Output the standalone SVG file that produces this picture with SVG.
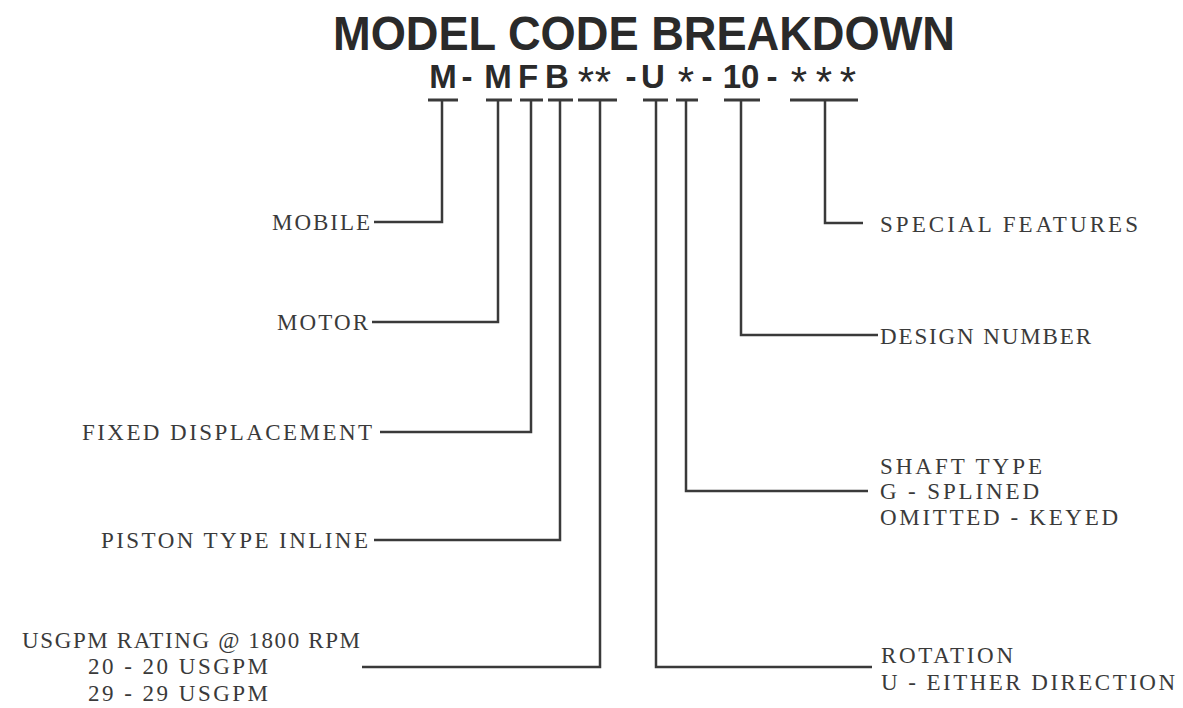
<svg xmlns="http://www.w3.org/2000/svg" width="1183" height="708" viewBox="0 0 1183 708">
<style>
.title{font-family:"Liberation Sans",Arial,sans-serif;font-weight:bold;font-size:49px;fill:#2a2a2a}
.code{font-family:"Liberation Sans",Arial,sans-serif;font-weight:bold;font-size:33px;fill:#2a2a2a;text-anchor:middle}
.ast{font-family:"Liberation Sans",Arial,sans-serif;font-weight:normal;font-size:42px;fill:#2a2a2a;text-anchor:middle}
.lbl{font-family:"Liberation Serif","Times New Roman",serif;font-size:23px;fill:#3a3a3a}
.wire{fill:none;stroke:#3a3a3a;stroke-width:2.5}
.bar{fill:none;stroke:#3a3a3a;stroke-width:3}
</style>
<rect width="1183" height="708" fill="#fff"/>
<text class="title" x="333" y="50" textLength="622" lengthAdjust="spacingAndGlyphs">MODEL CODE BREAKDOWN</text>
<g id="code">
<text class="code" x="443" y="88">M</text>
<text class="code" x="467" y="88">-</text>
<text class="code" x="498" y="88">M</text>
<text class="code" x="528" y="88">F</text>
<text class="code" x="557" y="88">B</text>
<text class="ast" x="586" y="96">*</text>
<text class="ast" x="603" y="96">*</text>
<text class="code" x="631" y="88">-</text>
<text class="code" x="653" y="88">U</text>
<text class="ast" x="686" y="96">*</text>
<text class="code" x="707" y="88">-</text>
<text class="code" x="741" y="88">10</text>
<text class="code" x="772" y="88">-</text>
<text class="ast" x="799" y="96">*</text>
<text class="ast" x="824" y="96">*</text>
<text class="ast" x="848" y="96">*</text>
</g>
<g id="connectors">
<path class="bar" d="M428 100H458M486 100H512M520 100H543M548 100H573M578 100H617M643 100H668M676 100H698M724 100H760M790 100H858"/>
<path class="wire" d="M442 100V222H374"/>
<path class="wire" d="M498 100V322H372"/>
<path class="wire" d="M531 100V432H380"/>
<path class="wire" d="M560 100V540H374"/>
<path class="wire" d="M600 100V667H362"/>
<path class="wire" d="M656 100V667H872"/>
<path class="wire" d="M686 100V491H868"/>
<path class="wire" d="M741 100V335H878"/>
<path class="wire" d="M825 100V223H863"/>
</g>
<g id="mobile"><text class="lbl" x="272" y="230" textLength="98" lengthAdjust="spacing">MOBILE</text></g>
<g id="motor"><text class="lbl" x="277" y="330" textLength="91" lengthAdjust="spacing">MOTOR</text></g>
<g id="fixed"><text class="lbl" x="82" y="440" textLength="290" lengthAdjust="spacing">FIXED DISPLACEMENT</text></g>
<g id="piston"><text class="lbl" x="101" y="548" textLength="267" lengthAdjust="spacing">PISTON TYPE INLINE</text></g>
<g id="usgpm">
<text class="lbl" x="22" y="648" textLength="338" lengthAdjust="spacing">USGPM RATING @ 1800 RPM</text>
<text class="lbl" x="88" y="674" textLength="180" lengthAdjust="spacing">20 - 20 USGPM</text>
<text class="lbl" x="88" y="701" textLength="180" lengthAdjust="spacing">29 - 29 USGPM</text>
</g>
<g id="special"><text class="lbl" x="880" y="232" textLength="258" lengthAdjust="spacing">SPECIAL FEATURES</text></g>
<g id="design"><text class="lbl" x="880" y="344" textLength="211" lengthAdjust="spacing">DESIGN NUMBER</text></g>
<g id="shaft">
<text class="lbl" x="880" y="474" textLength="162" lengthAdjust="spacing">SHAFT TYPE</text>
<text class="lbl" x="880" y="499" textLength="159" lengthAdjust="spacing">G - SPLINED</text>
<text class="lbl" x="880" y="525" textLength="238" lengthAdjust="spacing">OMITTED - KEYED</text>
</g>
<g id="rotation">
<text class="lbl" x="881" y="663" textLength="132" lengthAdjust="spacing">ROTATION</text>
<text class="lbl" x="881" y="690" textLength="294" lengthAdjust="spacing">U - EITHER DIRECTION</text>
</g>
</svg>
